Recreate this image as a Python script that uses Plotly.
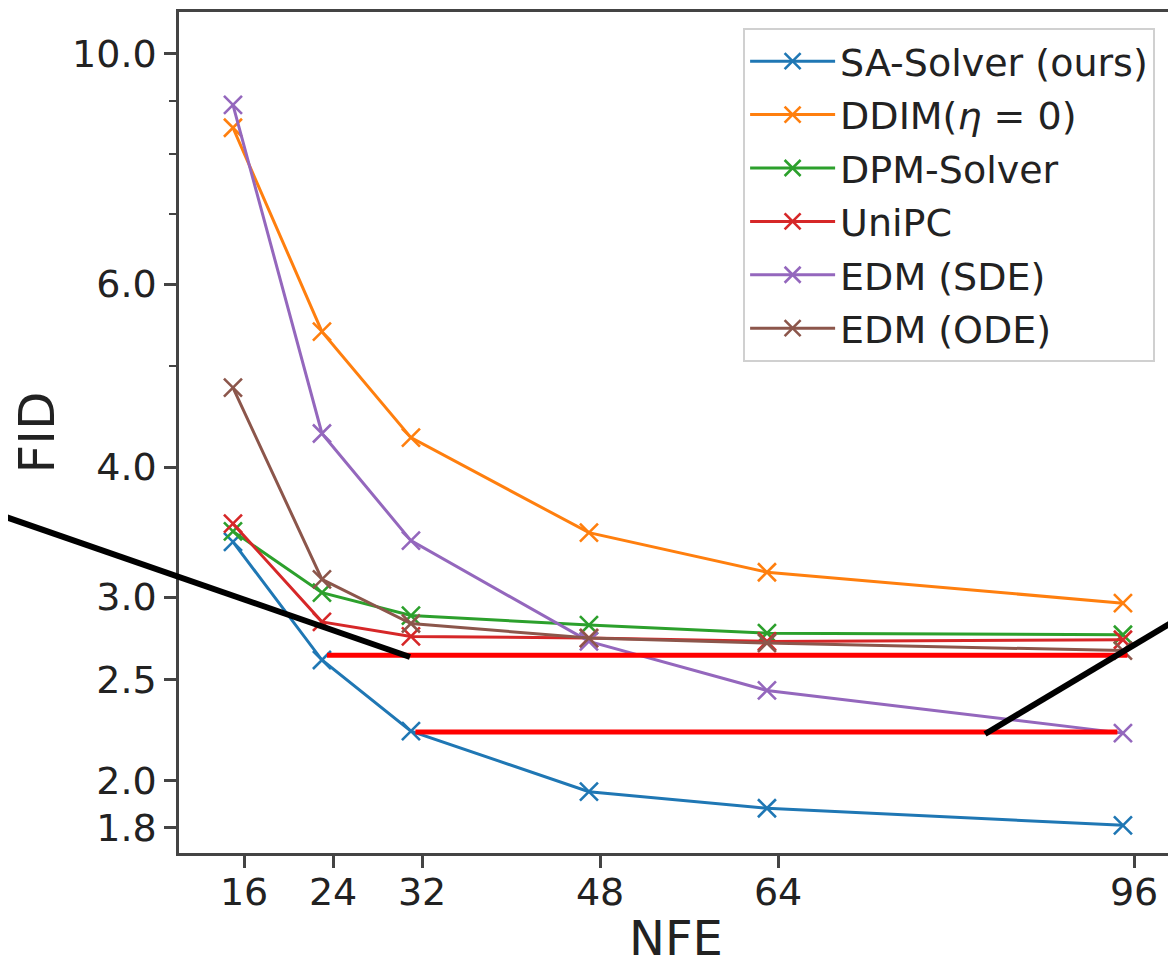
import plotly.graph_objects as go

# ---- data ----
nfe = [15, 23, 31, 47, 63, 95]
x_tick_vals = [16, 24, 32, 48, 64, 96]
x_tick_text = ["16", "24", "32", "48", "64", "96"]

sa_solver = [3.39, 2.61, 2.23, 1.95, 1.88, 1.81]
ddim = [8.48, 5.40, 4.27, 3.46, 3.17, 2.96]
dpm_solver = [3.47, 3.03, 2.88, 2.82, 2.77, 2.76]
unipc = [3.53, 2.84, 2.75, 2.74, 2.72, 2.73]
edm_sde = [8.92, 4.31, 3.40, 2.72, 2.44, 2.22]
edm_ode = [4.77, 3.12, 2.83, 2.74, 2.71, 2.665]

series_names = ["SA-Solver (ours)", "DDIM(<i>η</i> = 0)", "DPM-Solver", "UniPC", "EDM (SDE)", "EDM (ODE)"]
series_values = [sa_solver, ddim, dpm_solver, unipc, edm_sde, edm_ode]
colors = ["#1f77b4", "#ff7f0e", "#2ca02c", "#d62728", "#9467bd", "#8c564b"]

y_tick_vals = [1.8, 2.0, 2.5, 3.0, 4.0, 6.0, 10.0]
y_tick_text = ["1.8", "2.0", "2.5", "3.0", "4.0", "6.0", "10.0"]
y_minor_vals = [5, 7, 8, 9]

# red reference levels: (x start, x end, FID level)
red_levels = [(23.45, 95.4, 2.638), (31.4, 94.5, 2.226)]

FONT = "DejaVu Sans"
TXT = "#222222"

fig = go.Figure()
for i, (name, vals, col) in enumerate(zip(series_names, series_values, colors)):
    fig.add_trace(go.Scatter(
        x=nfe, y=vals, name=name, mode="lines+markers",
        legendgroup=f"g{i}",
        line=dict(color=col, width=3),
        marker=dict(symbol="x-thin", size=18, line=dict(color=col, width=2.6)),
    ))

for x0, x1, lvl in red_levels:
    fig.add_shape(type="line", xref="x", yref="y", x0=x0, x1=x1, y0=lvl, y1=lvl,
                  line=dict(color="#ff0000", width=5), layer="above")

# black annotation strokes (extend outside the axes, paper coords)
fig.add_shape(type="line", xref="paper", yref="paper", x0=-0.1801, y0=0.4019, x1=0.2324, y1=0.2331,
              line=dict(color="black", width=6), layer="above")
fig.add_shape(type="line", xref="paper", yref="paper", x0=0.8109, y0=0.1415, x1=1.007, y1=0.280,
              line=dict(color="black", width=6), layer="above")

axis_common = dict(
    showgrid=False, zeroline=False, showline=True, linecolor="#444444", linewidth=2.5,
    mirror=True, ticks="outside", ticklen=12, tickwidth=2.5, tickcolor="#444444",
    tickfont=dict(family=FONT, size=38, color=TXT), automargin=False,
)

fig.update_xaxes(
    range=[10.15, 99.5], tickmode="array", tickvals=x_tick_vals, ticktext=x_tick_text,
    ticklabelstandoff=-8,
    **axis_common,
)
fig.update_yaxes(
    type="log", range=[0.2311, 1.0397], tickmode="array", tickvals=y_tick_vals, ticktext=y_tick_text,
    minor=dict(tickmode="array", tickvals=y_minor_vals, ticks="outside", ticklen=7,
               tickwidth=2, tickcolor="#444444", showgrid=False),
    title=dict(text="FID", font=dict(family=FONT, size=50, color=TXT), standoff=13),
    **axis_common,
)

# x-axis title as a positioned annotation
fig.add_annotation(text="NFE", xref="paper", yref="paper", x=0.5, y=-0.101,
                   xanchor="center", yanchor="middle", showarrow=False,
                   font=dict(family=FONT, size=48, color=TXT))

fig.update_layout(
    width=1168, height=955,
    margin=dict(l=171, r=3, t=4, b=110),
    paper_bgcolor="white", plot_bgcolor="white",
    font=dict(family=FONT, color=TXT),
    showlegend=True,
    legend=dict(
        x=0.982, xanchor="right", y=0.981, yanchor="top",
        bgcolor="rgba(255,255,255,0.85)", bordercolor="#d0d0d0", borderwidth=2,
        font=dict(family=FONT, size=38, color=TXT),
        traceorder="grouped", tracegroupgap=1, itemwidth=85,
    ),
)

fig.write_html("out.html")
